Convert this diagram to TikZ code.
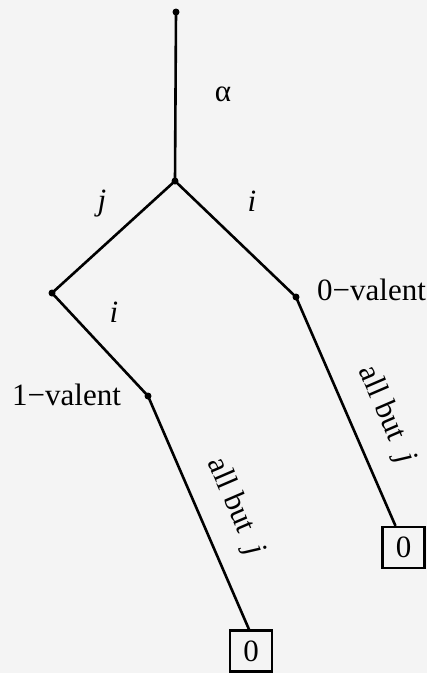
\documentclass[tikz,border=0pt]{standalone}
\usepackage{fontspec}
\setmainfont{Liberation Serif}
\definecolor{bg}{HTML}{F4F4F4}
\begin{document}
\begin{tikzpicture}[x=1pt,y=-1pt,
  edge/.style={line width=2.6pt},
  pt/.style={circle,fill,inner sep=0pt,minimum size=7pt},
  lab/.style={font=\fontsize{31}{36}\selectfont,inner sep=0pt},
  zbox/.style={draw,line width=2.2pt,minimum width=42pt,minimum height=41pt,inner sep=0pt,font=\fontsize{31}{36}\selectfont}]
\fill[bg] (0,0) rectangle (427,673);
\useasboundingbox (0,0) rectangle (427,673);
% points
\node[pt] (top) at (176,12) {};
\node[pt] (br) at (175,181) {};
\node[pt] (l) at (52,293) {};
\node[pt] (r) at (296,297) {};
\node[pt] (one) at (148,396) {};
\node[zbox] (zr) at (403.5,547.5) {0};
\node[zbox] (zb) at (251,651) {0};
% edges
\draw[edge] (top.center) -- (br.center);
\draw[edge] (br.center) -- (l.center);
\draw[edge] (br.center) -- (r.center);
\draw[edge] (l.center) -- (one.center);
\draw[edge] (r.center) -- ([xshift=-8pt]zr.north);
\draw[edge] (one.center) -- ([xshift=-2pt]zb.north);
% labels
\node[lab] (alpha) at (223,94) {α};
\node[lab] (jl) at (102,204) {\textit{j}};
\node[lab] (ir) at (252,201) {\textit{i}};
\node[lab] (il) at (114,312) {\textit{i}};
\node[lab,anchor=base west] (zv) at (317,300) {0−valent};
\node[lab,anchor=base west] (ov) at (12,405) {1−valent};
\node[lab,rotate=-66.7] (abr) at (386,415) {all but\enspace\textit{j}};
\node[lab,rotate=-66.7] (abl) at (235,507) {all but\enspace\textit{j}};
\end{tikzpicture}
\end{document}
